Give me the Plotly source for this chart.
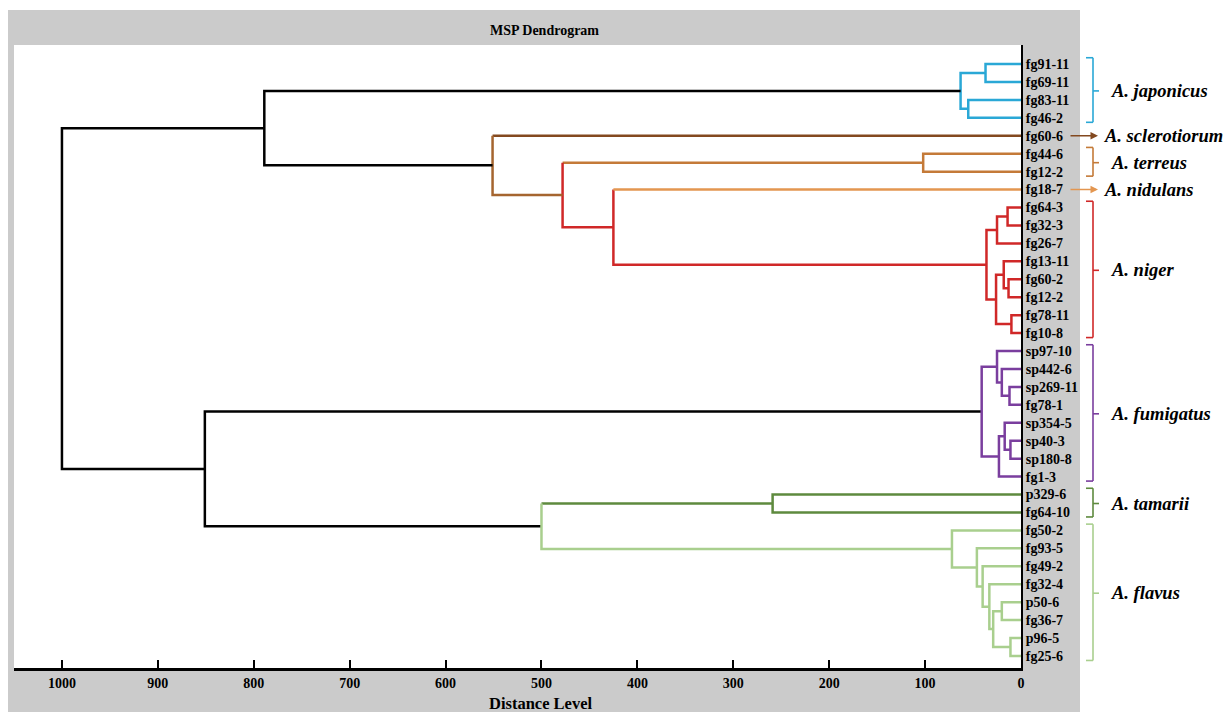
import plotly.graph_objects as go

# ---------------- data ----------------
leaves = ["fg91-11", "fg69-11", "fg83-11", "fg46-2", "fg60-6", "fg44-6", "fg12-2",
          "fg18-7", "fg64-3", "fg32-3", "fg26-7", "fg13-11", "fg60-2", "fg12-2",
          "fg78-11", "fg10-8", "sp97-10", "sp442-6", "sp269-11", "fg78-1", "sp354-5",
          "sp40-3", "sp180-8", "fg1-3", "p329-6", "fg64-10", "fg50-2", "fg93-5",
          "fg49-2", "fg32-4", "p50-6", "fg36-7", "p96-5", "fg25-6"]

# merges: node name, child a, child b (int = leaf index), distance level
merge_names = ["J1", "J2", "JAP", "TER", "N1", "N2", "N3", "N4", "N5", "N6", "NIG", "RED",
               "ORG", "BRN", "A", "F1", "F2", "F3", "F4", "F5", "F6", "FUM", "TAM", "V1",
               "V2", "V3", "V4", "V5", "V6", "FLA", "GRN", "B", "ROOT"]
merge_a = [0, 2, "J1", 5, 8, "N1", 12, 11, 14, "N4", "N2", 7,
           "TER", 4, "JAP", 18, 17, 16, 21, 20, "F5", "F3", 24, 30,
           32, "V1", 29, 28, 27, 26, "TAM", "FUM", "A"]
merge_b = [1, 3, "J2", 6, 9, 10, 13, "N3", 15, "N5", "N6", "NIG",
           "RED", "ORG", "BRN", 19, "F1", "F2", 22, "F4", 23, "F6", 25, 31,
           33, "V2", "V3", "V4", "V5", "V6", "FLA", "GRN", "B"]
merge_dist = [37, 55, 63, 102, 14, 25, 13, 18, 10, 26, 36, 425,
              478, 551, 789, 12, 20, 25, 11, 17, 23, 41, 259, 20,
              11, 29, 33, 40, 46, 72, 500, 851, 1000]

species = ["A. japonicus", "A. sclerotiorum", "A. terreus", "A. nidulans",
           "A. niger", "A. fumigatus", "A. tamarii", "A. flavus"]
species_first = [0, 4, 5, 7, 8, 16, 24, 26]
species_last = [3, 4, 6, 7, 15, 23, 25, 33]

x_ticks = [0, 100, 200, 300, 400, 500, 600, 700, 800, 900, 1000]

# ---------------- style ----------------
BLACK = "#000000"
CYAN = "#2AA8D6"
DBROWN = "#83491F"
BROWN = "#A5652F"
TERREUS = "#C47A38"
NIDUL = "#E39650"
RED = "#D02828"
PURPLE = "#7A3E9E"
DGREEN = "#5E8A3E"
LGREEN = "#A9CF8E"

node_color = {"ROOT": BLACK, "A": BLACK, "B": BLACK,
              "JAP": CYAN, "J1": CYAN, "J2": CYAN,
              "BRN": BROWN, "TER": TERREUS,
              "ORG": RED, "RED": RED, "NIG": RED,
              "FUM": PURPLE, "GRN": LGREEN, "TAM": DGREEN, "FLA": LGREEN}
for n in merge_names:
    if n not in node_color:
        if n.startswith("N"):
            node_color[n] = RED
        elif n.startswith("F"):
            node_color[n] = PURPLE
        elif n.startswith("V"):
            node_color[n] = LGREEN
arm_override = {("BRN", 4): DBROWN, ("ORG", "TER"): TERREUS,
                ("RED", 7): NIDUL, ("GRN", "TAM"): DGREEN}

species_color = [CYAN, DBROWN, TERREUS, NIDUL, RED, PURPLE, DGREEN, LGREEN]

FONT = "Liberation Serif"
GRAY = "#CBCBCB"

# pixel geometry helpers for decorations (plot area x 14..1021, y 45..668)
PL, PR, PT, PB = 14, 1021, 45, 668
def px(xp):
    return (xp - PL) / (PR - PL)
def py(yp):
    return (PB - yp) / (PB - PT)

# ---------------- compute dendrogram ----------------
pos = {i: (0.0, float(i)) for i in range(len(leaves))}
for n, a, b, h in zip(merge_names, merge_a, merge_b, merge_dist):
    pos[n] = (h, (pos[a][1] + pos[b][1]) / 2)

segs = {}  # color -> (xs, ys)
def add_path(color, pts):
    xs, ys = segs.setdefault(color, ([], []))
    for p in pts:
        xs.append(p[0]); ys.append(p[1])
    xs.append(None); ys.append(None)

for n, a, b, h in zip(merge_names, merge_a, merge_b, merge_dist):
    vc = node_color[n]
    ca = arm_override.get((n, a), vc)
    cb = arm_override.get((n, b), vc)
    xa, ya = pos[a]
    xb, yb = pos[b]
    pieces = [(ca, [(xa, ya), (h, ya)]), (vc, [(h, ya), (h, yb)]), (cb, [(h, yb), (xb, yb)])]
    merged = []
    for c, pts in pieces:
        if merged and merged[-1][0] == c:
            merged[-1][1].extend(pts[1:])
        else:
            merged.append([c, list(pts)])
    for c, pts in merged:
        add_path(c, pts)

fig = go.Figure()
for c, (xs, ys) in segs.items():
    fig.add_trace(go.Scatter(x=xs, y=ys, mode="lines",
                             line=dict(color=c, width=2.5),
                             hoverinfo="skip", showlegend=False))

shapes = [
    dict(type="rect", xref="paper", yref="paper", x0=px(8), x1=px(1080),
         y0=py(740), y1=py(10), fillcolor=GRAY, line=dict(width=0), layer="below"),
    dict(type="rect", xref="paper", yref="paper", x0=0, x1=1, y0=0, y1=1,
         fillcolor="white", line=dict(width=0), layer="below"),
]
annotations = [
    dict(text="<b>MSP Dendrogram</b>", xref="paper", yref="paper", x=px(544), y=py(30),
         showarrow=False, font=dict(family=FONT, size=14, color="black"),
         xanchor="center", yanchor="middle"),
    dict(text="<b>Distance Level</b>", xref="paper", yref="paper", x=px(541), y=py(703),
         showarrow=False, font=dict(family=FONT, size=16.5, color="black"),
         xanchor="center", yanchor="middle"),
]

for name, f, l, col in zip(species, species_first, species_last, species_color):
    ymid = (f + l) / 2
    if f == l:
        annotations.append(dict(text="", xref="paper", yref="y", x=px(1098), y=f,
                                ax=-29, ay=0, showarrow=True, arrowhead=2, arrowsize=1,
                                arrowwidth=1.5, arrowcolor=col))
        tx = 1102
    else:
        y0, y1 = f - 0.35, l + 0.25
        bx = 1093
        for (xa, ya, xb, yb) in [(bx - 7, y0, bx, y0), (bx, y0, bx, y1), (bx - 7, y1, bx, y1),
                                 (bx, ymid, bx + 6, ymid)]:
            shapes.append(dict(type="line", xref="paper", yref="y", x0=px(xa), x1=px(xb),
                               y0=ya, y1=yb, line=dict(color=col, width=1.6)))
        tx = 1109
    annotations.append(dict(text="<b><i>%s</i></b>" % name, xref="paper", yref="y",
                            x=px(tx), y=ymid, showarrow=False, xanchor="left",
                            yanchor="middle", font=dict(family=FONT, size=18.5, color="black")))

fig.update_layout(
    template="none",
    width=1229, height=712, autosize=False,
    margin=dict(l=PL, r=1229 - PR, t=PT, b=712 - PB, pad=0),
    paper_bgcolor="white", plot_bgcolor="white",
    font=dict(family=FONT, color="black"),
    shapes=shapes, annotations=annotations,
    xaxis=dict(range=[1050, 0], tickvals=x_ticks, ticktext=[str(v) for v in x_ticks],
               ticks="inside", ticklen=8, tickwidth=1.5, tickcolor="black",
               showline=True, linewidth=2.5, linecolor="black", showgrid=False,
               zeroline=False, automargin=False,
               tickfont=dict(family=FONT, size=14, color="black", weight="bold")),
    yaxis=dict(range=[33.67, -1.06], side="right", tickvals=list(range(len(leaves))),
               ticktext=leaves, ticks="", showline=True, linewidth=2, linecolor="black",
               showgrid=False, zeroline=False, automargin=False,
               tickfont=dict(family=FONT, size=14, color="black", weight="bold")),
)

fig.write_html("out.html")
